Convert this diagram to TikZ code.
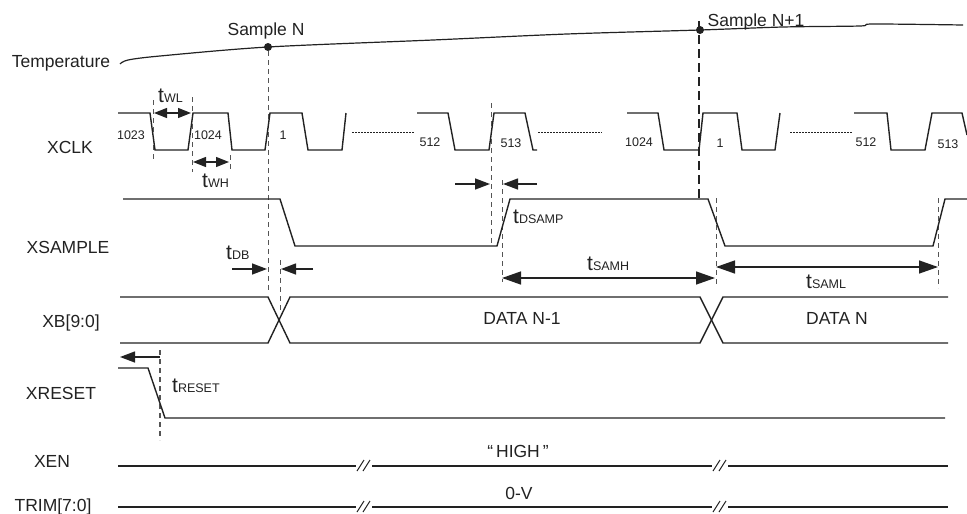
\documentclass[tikz,border=0pt]{standalone}
\usepackage{fontspec}
\setmainfont{Liberation Sans}
\usetikzlibrary{arrows.meta}
\definecolor{ink}{HTML}{222222}
\definecolor{dashc}{HTML}{555555}
\newcommand{\biglab}{\fontsize{17.5}{20}\selectfont}
\newcommand{\numlab}{\fontsize{12.5}{14}\selectfont}
\newcommand{\tlab}[1]{{\fontsize{21}{21}\selectfont t}{\fontsize{12.5}{12.5}\selectfont #1}}
\begin{document}
\begin{tikzpicture}[x=1pt,y=-1pt,
  wave/.style={draw=ink,line width=1.4pt,line join=miter},
  guide/.style={draw=dashc,line width=0.9pt,dash pattern=on 5pt off 4pt},
  bigguide/.style={draw=ink,line width=1.8pt,dash pattern=on 9pt off 5pt},
  dots/.style={draw=ink,line width=1pt,dash pattern=on 1.5pt off 1.5pt},
  dim/.style={draw=ink,line width=1.4pt},
  tip/.style={-{Triangle[length=15pt,width=11pt]}},
  dtip/.style={{Triangle[length=13pt,width=10pt]}-{Triangle[length=13pt,width=10pt]}},
  bigdtip/.style={{Triangle[length=19pt,width=13pt]}-{Triangle[length=19pt,width=13pt]}},
  lab/.style={font=\biglab,text=ink,inner sep=0pt,anchor=base},
  num/.style={font=\numlab,text=ink,inner sep=0pt,anchor=base},
  tl/.style={text=ink,inner sep=0pt,anchor=base west},
  dot/.style={circle,fill=ink,inner sep=0pt,minimum size=8pt}]
\useasboundingbox (0,0) rectangle (967,514);

% ---- labels on the left
\node[lab] (lTemp) at (61,67) {Temperature};
\node[lab] (lXCLK) at (70,153) {XCLK};
\node[lab] (lXS) at (68,253) {XSAMPLE};
\node[lab] (lXB) at (71,327) {XB[9:0]};
\node[lab] (lXR) at (61,399) {XRESET};
\node[lab] (lXEN) at (52,467) {XEN};
\node[lab] (lTRIM) at (53,511) {TRIM[7:0]};

% ---- temperature curve
\draw[wave,line width=1.2pt] plot[smooth,tension=0.5] coordinates
  {(120,64) (128,60) (160,56) (268,47) (433,40) (567,34) (700,30) (783,27) (860,26) (873,24) (963,25)};
\node[dot] (sN) at (268,47) {};
\node[dot] (sN1) at (700,30) {};
\node[lab] (lSN) at (266,35) {Sample N};
\node[lab] (lSN1) at (756,27) {Sample N+1};

% ---- guide lines
\coordinate (g1a) at (153,100); \coordinate (g1b) at (153,160);
\coordinate (g2a) at (192,97);  \coordinate (g2b) at (192,172);
\coordinate (g3a) at (230,155); \coordinate (g3b) at (230,172);
\coordinate (gNb) at (268,292);
\coordinate (g4a) at (280,260); \coordinate (g4b) at (280,313);
\coordinate (g5a) at (491,103); \coordinate (g5b) at (491,245);
\coordinate (g6a) at (502,180); \coordinate (g6b) at (502,282);
\coordinate (gN1a) at (699,21); \coordinate (gN1b) at (699,198);
\coordinate (g7a) at (716,198); \coordinate (g7b) at (716,287);
\coordinate (g8a) at (938,198); \coordinate (g8b) at (938,288);
\coordinate (g9a) at (160,350); \coordinate (g9b) at (160,440);
\draw[guide] (g1a) -- (g1b);
\draw[guide] (g2a) -- (g2b);
\draw[guide] (g3a) -- (g3b);
\draw[guide] (sN) -- (gNb);
\draw[guide] (g4a) -- (g4b);
\draw[guide] (g5a) -- (g5b);
\draw[guide] (g6a) -- (g6b);
\draw[bigguide] (gN1a) -- (gN1b);
\draw[guide] (g7a) -- (g7b);
\draw[guide] (g8a) -- (g8b);
\draw[guide,line width=1.2pt] (g9a) -- (g9b);

% ---- XCLK
\draw[wave] (118,113) -- (150,113) -- (155,150) -- (188,150) -- (193,113) -- (228,113) -- (232,150) -- (265,150) -- (270,113) -- (302,113) -- (308,150) -- (342,150) -- (346,113);
\draw[wave] (417,113) -- (448,113) -- (455,150) -- (489,150) -- (494,113) -- (525,113) -- (533,150) -- (537,150);
\draw[wave] (627,113) -- (658,113) -- (664,150) -- (699,150) -- (703,113) -- (737,113) -- (742,150) -- (775,150) -- (780,113);
\draw[wave] (854,113) -- (887,113) -- (891,150) -- (925,150) -- (932,113) -- (962,113) -- (967,135);
\draw[dots] (352,132) -- (415,132);
\draw[dots] (538,132) -- (602,132);
\draw[dots] (790,132) -- (853,132);
\node[num] (c1) at (131,139) {1023};
\node[num] (c2) at (208,139) {1024};
\node[num] (c3) at (283,139) {1};
\node[num] (c4) at (430,146) {512};
\node[num] (c5) at (511,147) {513};
\node[num] (c6) at (639,146) {1024};
\node[num] (c7) at (720,147) {1};
\node[num] (c8) at (866,146) {512};
\node[num] (c9) at (948,148) {513};

% ---- XCLK timing
\coordinate (wl1) at (154,113); \coordinate (wl2) at (191,113);
\coordinate (wh1) at (193,162); \coordinate (wh2) at (229,162);
\draw[dim,dtip] (wl1) -- (wl2);
\draw[dim,dtip] (wh1) -- (wh2);
\node[tl] (tWL) at (158,102) {\tlab{WL}};
\node[tl] (tWH) at (202,187) {\tlab{WH}};

% ---- XSAMPLE
\draw[wave] (123,199) -- (280,199) -- (295,246) -- (497,246) -- (510,199) -- (708,199) -- (725,246) -- (933,246) -- (945,199) -- (967,199);

% tDB
\coordinate (db1) at (232,269); \coordinate (db1e) at (267,269);
\coordinate (db2) at (313,269); \coordinate (db2e) at (281,269);
\draw[dim,tip] (db1) -- (db1e);
\draw[dim,tip] (db2) -- (db2e);
\node[tl] (tDB) at (226,259) {\tlab{DB}};

% tDSAMP
\coordinate (ds1) at (455,184); \coordinate (ds1e) at (490,184);
\coordinate (ds2) at (537,184); \coordinate (ds2e) at (503,184);
\draw[dim,tip] (ds1) -- (ds1e);
\draw[dim,tip] (ds2) -- (ds2e);
\node[tl] (tDS) at (513,223) {\tlab{DSAMP}};

% tSAMH, tSAML
\coordinate (sh1) at (502,278); \coordinate (sh2) at (715,278);
\coordinate (sl1) at (716,267); \coordinate (sl2) at (938,267);
\draw[dim,bigdtip] (sh1) -- (sh2);
\draw[dim,bigdtip] (sl1) -- (sl2);
\node[tl] (tSH) at (587,270) {\tlab{SAMH}};
\node[tl] (tSL) at (806,288) {\tlab{SAML}};

% ---- XB[9:0]
\draw[wave] (120,297) -- (268,297) -- (290,343) -- (700,343) -- (723,297) -- (948,297);
\draw[wave] (120,343) -- (268,343) -- (290,297) -- (700,297) -- (723,343) -- (948,343);
\node[lab] (dN1) at (522,324) {DATA N-1};
\node[lab] (dN) at (837,324) {DATA N};

% ---- XRESET
\coordinate (rs1) at (160,357); \coordinate (rs2) at (120,357);
\draw[dim,tip] (rs1) -- (rs2);
\draw[wave] (118,368) -- (148,368) -- (165,418) -- (945,418);
\node[tl] (tRS) at (172,392) {\tlab{RESET}};

% ---- XEN, TRIM
\draw[wave] (118,466) -- (356,466);
\draw[wave] (372,466) -- (712,466);
\draw[wave] (728,466) -- (948,466);
\draw[wave,line width=1pt] (357,471) -- (364,460) (363,471) -- (370,460);
\draw[wave,line width=1pt] (713,471) -- (720,460) (719,471) -- (726,460);
\node[lab] (hi) at (518,457) {“\,HIGH\,”};

\draw[wave] (118,507) -- (356,507);
\draw[wave] (372,507) -- (712,507);
\draw[wave] (728,507) -- (948,507);
\draw[wave,line width=1pt] (357,512) -- (364,501) (363,512) -- (370,501);
\draw[wave,line width=1pt] (713,512) -- (720,501) (719,512) -- (726,501);
\node[lab] (ov) at (519,499) {0-V};
\end{tikzpicture}
\end{document}
